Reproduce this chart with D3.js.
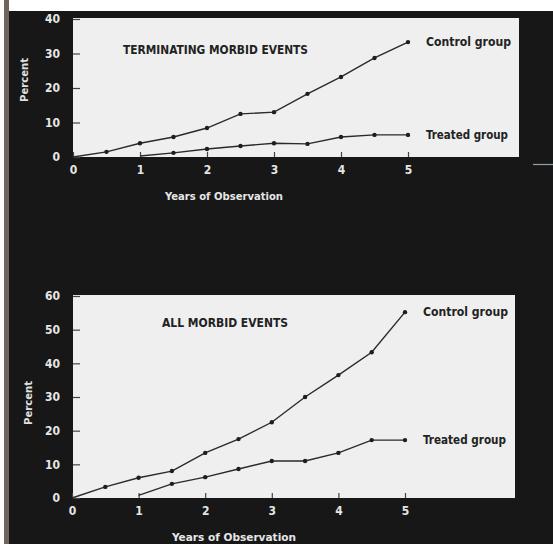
<!DOCTYPE html>
<html>
<head>
<meta charset="utf-8">
<script src="https://cdn.jsdelivr.net/npm/d3@7"></script>
<style>
  html, body { margin: 0; padding: 0; background: #fff; }
  svg { display: block; }
  .lbl { font-family: "Liberation Sans Narrow", "DejaVu Sans Condensed", sans-serif; font-weight: bold; }
</style>
</head>
<body>
<svg id="chart" width="553" height="544"></svg>
<script>
  // values (percent)
  const years = [0, 0.5, 1, 1.5, 2, 2.5, 3, 3.5, 4, 4.5, 5];
  const treatedYears = [1, 1.5, 2, 2.5, 3, 3.5, 4, 4.5, 5];

  const termControl = [0, 1.5, 4, 5.8, 8.4, 12.5, 13, 18.3, 23.2, 28.7, 33.3];
  const termTreated = [0.3, 1.2, 2.3, 3.2, 4, 3.8, 5.8, 6.4, 6.4];

  const allControl = [0, 3.3, 6, 8, 13.4, 17.5, 22.5, 30, 36.5, 43.3, 55.2];
  const allTreated = [0.8, 4.2, 6.2, 8.6, 11, 11, 13.4, 17.2, 17.2];

  const xTicks = [0, 1, 2, 3, 4, 5];
  const termTicks = [0, 10, 20, 30, 40];
  const allTicks = [0, 10, 20, 30, 40, 50, 60];

  const svg = d3.select("#chart");

  // scanned page: dark photo background, white strip on top, grey edge on the left
  svg.append("rect").attr("width", 553).attr("height", 544).attr("fill", "#171717");
  svg.append("rect").attr("width", 553).attr("height", 11).attr("fill", "#ffffff");
  svg.append("rect").attr("width", 4).attr("height", 544).attr("fill", "#ffffff");
  svg.append("rect").attr("x", 4).attr("width", 5).attr("height", 544).attr("fill", "#6f655d");
  svg.append("line").attr("x1", 533).attr("x2", 553).attr("y1", 164.5).attr("y2", 164.5)
    .attr("stroke", "#8fa0aa").attr("stroke-width", 1.2);

  const panels = [
    {
      title: "TERMINATING MORBID EVENTS", titleX: 123, titleY: 54, titleLen: 185,
      box: [73, 18, 519, 157], xRange: [73, 408], yRange: [157, 19], yMax: 40,
      yTicks: termTicks, control: termControl, treated: termTreated,
      percentX: 24, percentY: 80, yearsX: 224, yearsY: 200, yearsLen: 118,
      controlLen: 85, treatedLen: 82
    },
    {
      title: "ALL MORBID EVENTS", titleX: 162, titleY: 327, titleLen: 126,
      box: [73, 295, 515, 498], xRange: [72, 405], yRange: [498, 296], yMax: 60,
      yTicks: allTicks, control: allControl, treated: allTreated,
      percentX: 28, percentY: 403, yearsX: 234, yearsY: 541, yearsLen: 124,
      controlLen: 85, treatedLen: 83
    }
  ];

  panels.forEach((p) => {
    const g = svg.append("g");
    const [bx0, by0, bx1, by1] = p.box;

    g.append("rect")
      .attr("x", bx0).attr("y", by0)
      .attr("width", bx1 - bx0).attr("height", by1 - by0)
      .attr("fill", "#efefef");

    const x = d3.scaleLinear().domain([0, 5]).range(p.xRange);
    const y = d3.scaleLinear().domain([0, p.yMax]).range(p.yRange);

    // ticks point into the plot, labels sit out on the dark ground
    const yAxis = g.append("g")
      .attr("transform", `translate(${bx0},0)`)
      .call(d3.axisLeft(y).tickValues(p.yTicks).tickFormat(d3.format("d")).tickSize(-7).tickPadding(13));
    const xAxis = g.append("g")
      .attr("transform", `translate(0,${by1})`)
      .call(d3.axisBottom(x).tickValues(xTicks).tickFormat(d3.format("d")).tickSize(-5).tickPadding(8));

    [yAxis, xAxis].forEach((ax) => {
      ax.select(".domain").remove();
      ax.selectAll(".tick line").attr("stroke", "#444").attr("stroke-width", 1.2);
      ax.selectAll(".tick text")
        .attr("class", "lbl")
        .attr("fill", "#e6e6e6")
        .style("font-size", "12px");
    });

    const line = d3.line().x((d) => x(d[0])).y((d) => y(d[1]));

    const series = [
      { pts: years.map((yr, i) => [yr, p.control[i]]), name: "Control group", len: p.controlLen },
      { pts: treatedYears.map((yr, i) => [yr, p.treated[i]]), name: "Treated group", len: p.treatedLen }
    ];

    series.forEach((s) => {
      g.append("path")
        .datum(s.pts)
        .attr("d", line)
        .attr("fill", "none")
        .attr("stroke", "#2a2a2a")
        .attr("stroke-width", 1.4);

      g.selectAll(null)
        .data(s.pts.slice(1))
        .join("circle")
        .attr("cx", (d) => x(d[0]))
        .attr("cy", (d) => y(d[1]))
        .attr("r", 2.2)
        .attr("fill", "#1e1e1e");

      const last = s.pts[s.pts.length - 1];
      g.append("text")
        .attr("class", "lbl")
        .attr("x", x(last[0]) + 18)
        .attr("y", y(last[1]) + 4)
        .attr("fill", "#222")
        .attr("textLength", s.len)
        .attr("lengthAdjust", "spacingAndGlyphs")
        .style("font-size", "12px")
        .text(s.name);
    });

    g.append("text")
      .attr("class", "lbl")
      .attr("x", p.titleX).attr("y", p.titleY)
      .attr("fill", "#222")
      .attr("textLength", p.titleLen)
      .attr("lengthAdjust", "spacingAndGlyphs")
      .style("font-size", "12px")
      .text(p.title);

    g.append("text")
      .attr("class", "lbl")
      .attr("transform", `translate(${p.percentX},${p.percentY}) rotate(-90)`)
      .attr("text-anchor", "middle")
      .attr("dy", "0.35em")
      .attr("fill", "#e0e0e0")
      .attr("textLength", 44)
      .attr("lengthAdjust", "spacingAndGlyphs")
      .style("font-size", "11px")
      .text("Percent");

    g.append("text")
      .attr("class", "lbl")
      .attr("x", p.yearsX).attr("y", p.yearsY)
      .attr("text-anchor", "middle")
      .attr("fill", "#e6e6e6")
      .attr("textLength", p.yearsLen)
      .attr("lengthAdjust", "spacingAndGlyphs")
      .style("font-size", "11px")
      .text("Years of Observation");
  });
</script>
</body>
</html>
